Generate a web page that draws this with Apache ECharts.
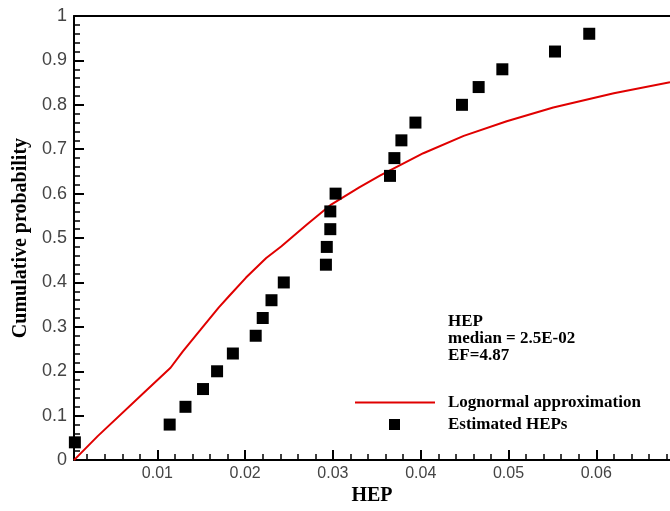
<!DOCTYPE html>
<html>
<head>
<meta charset="utf-8">
<script src="https://cdn.jsdelivr.net/npm/echarts@6/dist/echarts.min.js"></script>
<style>html,body{margin:0;padding:0;background:#fff}#c{width:670px;height:511px}</style>
</head>
<body>
<div id="c"></div>
<script>
// Estimated HEPs (scatter)
var hepX = [0.0006, 0.0114, 0.0132, 0.0152, 0.0168, 0.0186, 0.0212, 0.0220, 0.0230, 0.0244, 0.0292, 0.0293, 0.0297, 0.0297, 0.0303, 0.0365, 0.0370, 0.0378, 0.0394, 0.0447, 0.0466, 0.0493, 0.0553, 0.0592];
var hepP = [0.04, 0.08, 0.12, 0.16, 0.20, 0.24, 0.28, 0.32, 0.36, 0.40, 0.44, 0.48, 0.52, 0.56, 0.60, 0.64, 0.68, 0.72, 0.76, 0.80, 0.84, 0.88, 0.92, 0.96];
// Lognormal approximation (line)
var lnX = [0.0005, 0.0032, 0.0087, 0.0115, 0.0129, 0.0149, 0.0170, 0.0182, 0.0201, 0.0224, 0.0241, 0.0270, 0.0297, 0.0330, 0.0354, 0.0403, 0.0449, 0.0498, 0.0551, 0.0620, 0.0684];
var lnP = [0.000, 0.054, 0.156, 0.208, 0.245, 0.293, 0.344, 0.370, 0.411, 0.455, 0.481, 0.530, 0.574, 0.614, 0.641, 0.691, 0.730, 0.763, 0.794, 0.826, 0.851];
// Tick labels
var xMajor = [0.01, 0.02, 0.03, 0.04, 0.05, 0.06];
var xMinor = [0.002, 0.004, 0.006, 0.008, 0.012, 0.014, 0.016, 0.018, 0.022, 0.024, 0.026, 0.028, 0.032, 0.034, 0.036, 0.038, 0.042, 0.044, 0.046, 0.048, 0.052, 0.054, 0.056, 0.058, 0.062, 0.064, 0.066, 0.068];
var annotation = ['HEP', 'median = 2.5E-02', 'EF=4.87'];
var lineName = 'Lognormal approximation';
var scatterName = 'Estimated HEPs';

var XMIN = 0.0005, XMAX = 0.0684;
var serif = 'Liberation Serif';
var sans = 'Liberation Sans';

var chart = echarts.init(document.getElementById('c'), null, {renderer: 'canvas'});
chart.setOption({
  animation: false,
  backgroundColor: '#fff',
  grid: {left: 74, right: 0, top: 16, bottom: 44, containLabel: false},
  title: {
    text: annotation.join('\n'),
    left: 448, top: 313, padding: 0,
    textStyle: {fontFamily: serif, fontWeight: 'bold', fontSize: 17, lineHeight: 17, color: '#000'}
  },
  legend: [{
    data: [lineName], left: 355, top: 394, padding: 0,
    itemWidth: 80, itemHeight: 2, icon: 'rect',
    textStyle: {fontFamily: serif, fontWeight: 'bold', fontSize: 17, color: '#000', padding: [0, 0, 0, 8]}
  }, {
    data: [scatterName], left: 389, top: 416, padding: 0,
    itemWidth: 11, itemHeight: 11, icon: 'rect',
    textStyle: {fontFamily: serif, fontWeight: 'bold', fontSize: 17, color: '#000', padding: [0, 0, 0, 43]}
  }],
  xAxis: [{
    type: 'value', min: XMIN, max: XMAX, position: 'bottom',
    name: 'HEP', nameLocation: 'middle', nameGap: 19,
    nameTextStyle: {fontFamily: serif, fontWeight: 'bold', fontSize: 20, color: '#000'},
    axisLine: {show: true, onZero: false, lineStyle: {color: '#000', width: 2}},
    axisTick: {show: true, inside: true, length: 10, customValues: xMajor, lineStyle: {color: '#000', width: 2}},
    axisLabel: {customValues: xMajor, fontFamily: sans, fontSize: 16, color: '#444', margin: 5},
    splitLine: {show: false}
  }, {
    type: 'value', min: XMIN, max: XMAX, position: 'bottom',
    axisLine: {show: false, onZero: false},
    axisTick: {show: true, inside: true, length: 6, customValues: xMinor, lineStyle: {color: '#000', width: 1.5}},
    axisLabel: {show: false},
    splitLine: {show: false}
  }, {
    type: 'value', min: XMIN, max: XMAX, position: 'top',
    axisLine: {show: true, onZero: false, lineStyle: {color: '#000', width: 2}},
    axisTick: {show: false}, axisLabel: {show: false}, splitLine: {show: false}
  }],
  yAxis: {
    type: 'value', min: 0, max: 1, interval: 0.1,
    name: 'Cumulative probability', nameLocation: 'middle', nameGap: 39, nameRotate: 90,
    nameTextStyle: {fontFamily: serif, fontWeight: 'bold', fontSize: 20, color: '#000'},
    axisLine: {show: true, onZero: false, lineStyle: {color: '#000', width: 2}},
    axisTick: {show: true, inside: true, length: 10, lineStyle: {color: '#000', width: 2}},
    minorTick: {show: true, splitNumber: 5, length: 6, lineStyle: {color: '#000', width: 1.5}},
    axisLabel: {fontFamily: sans, fontSize: 18, color: '#444', margin: 7},
    splitLine: {show: false}
  },
  series: [{
    name: lineName, type: 'line', xAxisIndex: 0,
    data: lnX.map(function (x, i) { return [x, lnP[i]]; }),
    symbol: 'none', showSymbol: false, smooth: false,
    lineStyle: {color: '#e00000', width: 2}, itemStyle: {color: '#e00000'}, z: 2
  }, {
    name: scatterName, type: 'scatter', xAxisIndex: 0,
    data: hepX.map(function (x, i) { return [x, hepP[i]]; }),
    symbol: 'rect', symbolSize: 12, clip: false,
    itemStyle: {color: '#000', opacity: 1}, z: 3
  }]
});
</script>
</body>
</html>
